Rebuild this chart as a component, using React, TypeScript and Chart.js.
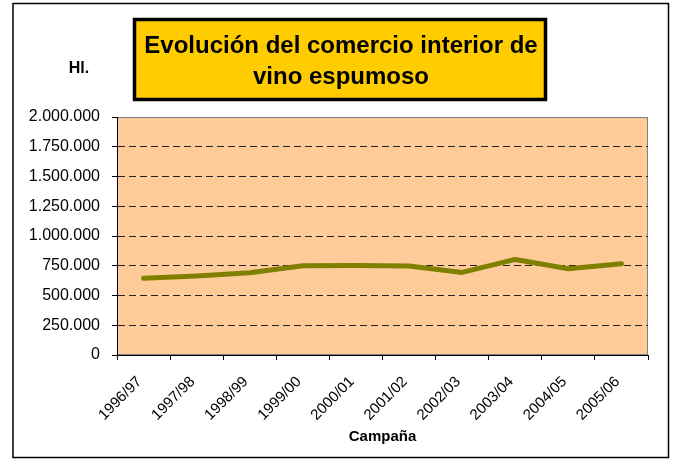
import React, { useEffect, useRef } from "react";
import { Chart, registerables } from "chart.js";

Chart.register(...registerables);

const campaigns = [
  "1996/97",
  "1997/98",
  "1998/99",
  "1999/00",
  "2000/01",
  "2001/02",
  "2002/03",
  "2003/04",
  "2004/05",
  "2005/06",
];
const volumeHl = [644000, 663000, 691000, 750000, 753000, 747000, 694000, 803000, 725000, 767000];

const titleLines = ["Evolución del comercio interior de", "vino espumoso"];
const yUnitLabel = "Hl.";
const xAxisLabel = "Campaña";
const yMin = 0;
const yMax = 2000000;
const yStep = 250000;

const FONT = '"Liberation Sans", Arial, Helvetica, sans-serif';

function fmtThousands(n: number): string {
  return String(Math.round(n)).replace(/\B(?=(\d{3})+(?!\d))/g, ".");
}

const decorPlugin = {
  id: "decor",
  beforeDraw(chart: any) {
    const { ctx, chartArea } = chart;
    const { left, top, right, bottom } = chartArea;
    ctx.save();
    ctx.fillStyle = "#FFCC99";
    ctx.fillRect(left, top, right - left, bottom - top);
    ctx.strokeStyle = "#808080";
    ctx.lineWidth = 1;
    ctx.strokeRect(left + 0.5, top + 0.5, right - left - 1, bottom - top - 1);
    ctx.restore();
  },
  afterDraw(chart: any) {
    const { ctx, chartArea } = chart;
    ctx.save();
    // outer frame
    ctx.strokeStyle = "#000";
    ctx.lineWidth = 1.5;
    ctx.strokeRect(13, 3.5, 655.5, 454);
    // title box
    ctx.fillStyle = "#FFCC00";
    ctx.fillRect(134, 19, 412, 81);
    ctx.lineWidth = 3.5;
    ctx.strokeStyle = "#000";
    ctx.strokeRect(134.5, 19.5, 411, 80);
    ctx.fillStyle = "#000";
    ctx.textAlign = "center";
    ctx.textBaseline = "alphabetic";
    ctx.font = `bold 24px ${FONT}`;
    ctx.fillText(titleLines[0], 341, 52.5);
    ctx.fillText(titleLines[1], 341, 83.5);
    // unit label
    ctx.font = `bold 16px ${FONT}`;
    ctx.fillText(yUnitLabel, 79, 72.5);
    // x axis title
    ctx.font = `bold 15px ${FONT}`;
    ctx.fillText(xAxisLabel, (chartArea.left + chartArea.right) / 2, 441);
    ctx.restore();
  },
};

export default function App() {
  const canvasRef = useRef<HTMLCanvasElement | null>(null);

  useEffect(() => {
    const canvas = canvasRef.current;
    if (!canvas) return;
    const chart = new Chart(canvas, {
      type: "line",
      data: {
        labels: campaigns,
        datasets: [
          {
            label: "Comercio interior (Hl.)",
            data: volumeHl,
            borderColor: "#808000",
            backgroundColor: "#808000",
            borderWidth: 5,
            pointRadius: 0,
            pointHoverRadius: 0,
            tension: 0,
            borderCapStyle: "round",
            borderJoinStyle: "round",
            fill: false,
          },
        ],
      },
      options: {
        responsive: false,
        animation: false,
        devicePixelRatio: 1,
        layout: { padding: { left: 0, top: 117, right: 28, bottom: 0 } },
        plugins: {
          legend: { display: false },
          title: { display: false },
          tooltip: { enabled: false },
        },
        scales: {
          x: {
            type: "category",
            offset: true,
            afterFit: (s: any) => {
              s.height = 104;
            },
            grid: {
              offset: true,
              drawOnChartArea: false,
              drawTicks: true,
              tickLength: 5,
              tickColor: "#000",
              color: "#000",
            },
            border: { display: true, color: "#000", width: 1 },
            ticks: {
              autoSkip: false,
              maxRotation: 45,
              minRotation: 45,
              padding: 13,
              labelOffset: -4,
              color: "#000",
              font: { family: FONT, size: 15 },
            },
          },
          y: {
            min: yMin,
            max: yMax,
            afterFit: (s: any) => {
              s.width = 117;
            },
            grid: {
              drawTicks: true,
              tickLength: 5,
              tickColor: "#000",
              tickBorderDash: [],
              color: (ctx: any) =>
                ctx.tick && (ctx.tick.value === yMin || ctx.tick.value === yMax)
                  ? "rgba(0,0,0,0)"
                  : "#222",
              lineWidth: 1,
            },
            border: { display: true, color: "#000", width: 1, dash: [7, 4] },
            ticks: {
              stepSize: yStep,
              padding: 12,
              color: "#000",
              font: { family: FONT, size: 16 },
              callback: (v: any) => fmtThousands(Number(v)),
            },
          },
        },
      },
      plugins: [decorPlugin],
    } as any);
    return () => chart.destroy();
  }, []);

  return (
    <div style={{ position: "absolute", left: 0, top: 0, width: 676, height: 459, background: "#fff" }}>
      <canvas ref={canvasRef} width={676} height={459} style={{ display: "block", width: 676, height: 459 }} />
    </div>
  );
}
